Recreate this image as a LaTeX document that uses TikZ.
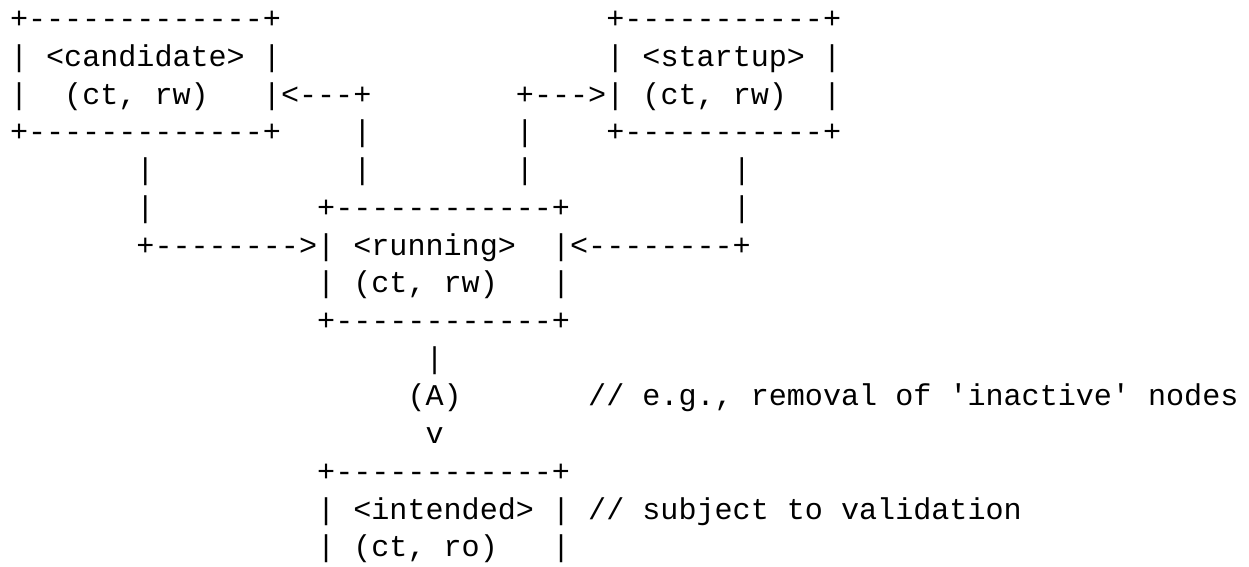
\documentclass[tikz,border=0pt]{standalone}
\usepackage{fontspec}
\setmonofont{Liberation Mono}
\frenchspacing
\tikzset{
  asc/.style={anchor=base west, inner sep=0pt, outer sep=0pt, text=black,
    font=\ttfamily\fontsize{30.1}{37.7}\selectfont}
}
% #1 name, #2 column, #3 line, #4 text
\newcommand{\ascseg}[4]{\node[asc] (#1) at ({10+18.07*#2},{537.1-37.7*(#3-1)}) {#4};}
\begin{document}
\begin{tikzpicture}[x=1pt,y=1pt]
\useasboundingbox (0,0) rectangle (1249,566);
% line 1
\ascseg{candTop}{0}{1}{+-------------+}
\ascseg{startTop}{33}{1}{+-----------+}
% line 2
\ascseg{candL2}{0}{2}{|}
\ascseg{candName}{2}{2}{<candidate>}
\ascseg{candR2}{14}{2}{|}
\ascseg{startL2}{33}{2}{|}
\ascseg{startName}{35}{2}{<startup>}
\ascseg{startR2}{45}{2}{|}
% line 3
\ascseg{candL3}{0}{3}{|}
\ascseg{candAttr}{3}{3}{(ct, rw)}
\ascseg{candArrow}{14}{3}{|<---+}
\ascseg{startArrow}{28}{3}{+--->|}
\ascseg{startAttr}{35}{3}{(ct, rw)}
\ascseg{startR3}{45}{3}{|}
% line 4
\ascseg{candBot}{0}{4}{+-------------+}
\ascseg{vA4}{19}{4}{|}
\ascseg{vB4}{28}{4}{|}
\ascseg{startBot}{33}{4}{+-----------+}
% line 5
\ascseg{vC5}{7}{5}{|}
\ascseg{vA5}{19}{5}{|}
\ascseg{vB5}{28}{5}{|}
\ascseg{vD5}{40}{5}{|}
% line 6
\ascseg{vC6}{7}{6}{|}
\ascseg{runTop}{17}{6}{+------------+}
\ascseg{vD6}{40}{6}{|}
% line 7
\ascseg{runArrowL}{7}{7}{+-------->|}
\ascseg{runName}{19}{7}{<running>}
\ascseg{runArrowR}{30}{7}{|<--------+}
% line 8
\ascseg{runL8}{17}{8}{|}
\ascseg{runAttr}{19}{8}{(ct, rw)}
\ascseg{runR8}{30}{8}{|}
% line 9
\ascseg{runBot}{17}{9}{+------------+}
% line 10
\ascseg{vE10}{23}{10}{|}
% line 11
\ascseg{labA}{22}{11}{(A)}
\ascseg{note1}{32}{11}{// e.g., removal of 'inactive' nodes}
% line 12
\ascseg{arrV}{23}{12}{v}
% line 13
\ascseg{intTop}{17}{13}{+------------+}
% line 14
\ascseg{intL14}{17}{14}{|}
\ascseg{intName}{19}{14}{<intended>}
\ascseg{intR14}{30}{14}{|}
\ascseg{note2}{32}{14}{// subject to validation}
% line 15
\ascseg{intL15}{17}{15}{|}
\ascseg{intAttr}{19}{15}{(ct, ro)}
\ascseg{intR15}{30}{15}{|}
\end{tikzpicture}
\end{document}
